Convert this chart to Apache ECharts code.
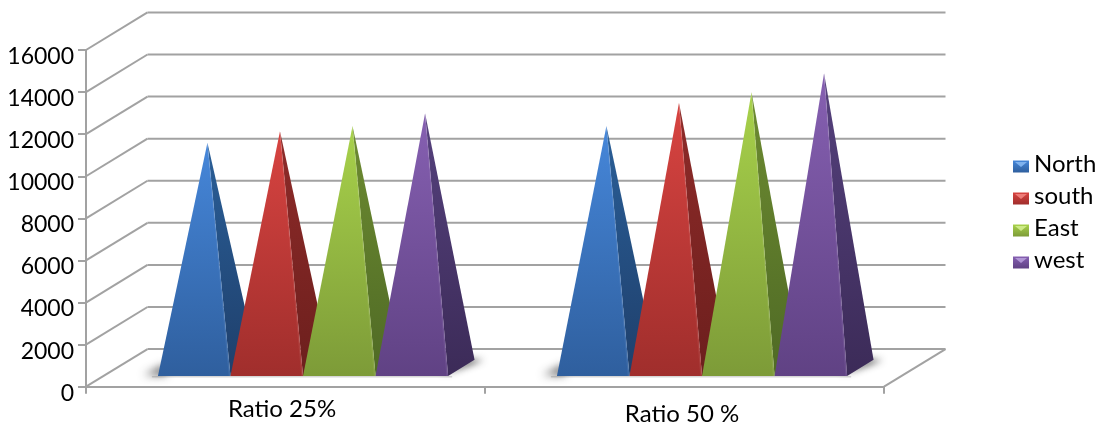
<!DOCTYPE html>
<html>
<head>
<meta charset="utf-8">
<style>html,body{margin:0;padding:0;background:#fff}#c{width:1102px;height:423px}</style>
<script src="https://cdn.jsdelivr.net/npm/echarts@6/dist/echarts.min.js"></script>
</head>
<body>
<div id="c"></div>
<script>
// Values per region
const categories = ['Ratio 25%', 'Ratio 50 %'];
const north = [10700, 11500];
const south = [11250, 12600];
const east = [11500, 13100];
const west = [12100, 14000];
const seriesNames = ['North', 'south', 'East', 'west'];
const seriesValues = [north, south, east, west];
const yTicks = [0, 2000, 4000, 6000, 8000, 10000, 12000, 14000, 16000];

// Face colours: front top, front bottom, side top, side bottom
const palette = [
  ['#4687da', '#2f5f9e', '#2a5f98', '#1f3f6b'],
  ['#d84441', '#a02e2c', '#8f2b29', '#6c1f1d'],
  ['#a8d24b', '#7d9b38', '#6d8b31', '#4f6a25'],
  ['#8660b2', '#604284', '#55417d', '#3c2b58']
];
// Pale notch on the legend swatches
const swatchGlow = ['#7fb2ee', '#ee7c78', '#cdea86', '#b196d6'];

// Oblique projection of the 3D box: full depth moves a point right and up
const DEPTH_X = 61.5, DEPTH_Y = 37.6;
const FRONT = 0.285, BACK = 0.715, MID = 0.5;
const GAP = 1.5;           // gap between clusters, in pyramid widths
const GRID = '#a2a2a2';
const FAR = 3000;          // shapes sit off-canvas so that only their blurred shadow shows

function vgrad(a, b) {
  return { type: 'linear', x: 0, y: 0, x2: 0, y2: 1, colorStops: [{ offset: 0, color: a }, { offset: 1, color: b }] };
}
function proj(p, d) { return [p[0] + d * DEPTH_X, p[1] - d * DEPTH_Y]; }
function pyramidWidth(api) { return api.size([1, 0])[0] / (seriesNames.length + GAP); }

// Back wall, gridlines and floor edges
function renderWall(params, api) {
  const cs = params.coordSys;
  const p = api.coord([0, api.value(0)]);
  const left = [cs.x, p[1]];
  const right = [cs.x + cs.width, p[1]];
  const backL = proj(left, 1), backR = proj(right, 1);
  const line = (a, b) => ({
    type: 'line',
    shape: { x1: a[0], y1: a[1], x2: b[0], y2: b[1] },
    style: { stroke: GRID, lineWidth: 2 }
  });
  const children = [line(left, backL), line(backL, backR)];
  if (api.value(0) === 0) children.push(line(right, backR));
  return { type: 'group', children };
}

function blurred(points, color, blur) {
  return {
    type: 'polygon',
    shape: { points: points.map(p => [p[0] - FAR, p[1]]) },
    style: { fill: '#000', shadowColor: color, shadowBlur: blur, shadowOffsetX: FAR, shadowOffsetY: 0 }
  };
}

// Soft shadow cast on the floor by each cluster
function renderShadow(params, api) {
  const cat = api.value(0);
  const w = pyramidWidth(api);
  const band = api.size([1, 0])[0];
  const base = api.coord([cat, 0]);
  const x0 = base[0] - band / 2 + (GAP / 2) * w;
  const fl = proj([x0, base[1]], FRONT);
  const fr = proj([x0 + seriesNames.length * w, base[1]], FRONT);
  const br = proj([x0 + seriesNames.length * w, base[1]], BACK);
  return {
    type: 'group',
    children: [
      blurred([[fl[0] - 14, fl[1] - 1], [fl[0] + 8, fl[1] - 1], [fl[0] + 8, fl[1] - 12]], 'rgba(70,70,70,0.85)', 8),
      blurred([[fr[0] - 6, fr[1] - 2], [br[0] - 6, br[1]], [br[0] + 9, br[1]], [fr[0] + 8, fr[1] - 6]], 'rgba(50,50,50,0.9)', 7),
      {
        type: 'rect',
        shape: { x: fl[0] - 6, y: fl[1], width: fr[0] - fl[0] + 10, height: 1.5 },
        style: { fill: 'rgba(120,120,120,0.3)' }
      }
    ]
  };
}

// One pyramid: front face and right-hand face meeting at the apex
function makePyramid(si) {
  return function (params, api) {
    const cat = api.value(0);
    const w = pyramidWidth(api);
    const band = api.size([1, 0])[0];
    const base = api.coord([cat, 0]);
    const top = api.coord([cat, api.value(1)]);
    const x0 = base[0] - band / 2 + (GAP / 2 + si) * w;
    const fl = proj([x0, base[1]], FRONT);
    const fr = proj([x0 + w, base[1]], FRONT);
    const br = proj([x0 + w, base[1]], BACK);
    const apex = proj([x0 + w / 2, top[1]], MID);
    const c = palette[si];
    return {
      type: 'group',
      children: [
        { type: 'polygon', shape: { points: [fr, br, apex] }, style: { fill: vgrad(c[2], c[3]) } },
        { type: 'polygon', shape: { points: [fl, fr, apex] }, style: { fill: vgrad(c[0], c[1]) } },
        {
          type: 'line',
          shape: { x1: fr[0] - 1, y1: fr[1], x2: apex[0], y2: apex[1] },
          style: { stroke: 'rgba(255,255,255,0.07)', lineWidth: 1.5 }
        }
      ]
    };
  };
}

const series = [
  {
    name: 'wall', type: 'custom', coordinateSystem: 'cartesian2d', silent: true, z: 1,
    renderItem: renderWall, encode: { y: 0 },
    data: yTicks.map(v => [v])
  },
  {
    name: 'floorShadow', type: 'custom', coordinateSystem: 'cartesian2d', silent: true, z: 2,
    renderItem: renderShadow, encode: { x: 0 },
    data: categories.map((c, i) => [i])
  }
];
seriesNames.forEach((name, si) => {
  series.push({
    name, type: 'custom', coordinateSystem: 'cartesian2d', z: 3 + si,
    renderItem: makePyramid(si),
    encode: { x: 0, y: 1 },
    itemStyle: { color: palette[si][0] },
    data: seriesValues[si].map((v, i) => [i, v])
  });
});

const LEGEND_LEFT = 1013, LEGEND_TOP = 161, LEGEND_STEP = 32;

const chart = echarts.init(document.getElementById('c'), null, { renderer: 'canvas' });
chart.setOption({
  animation: false,
  backgroundColor: '#fff',
  grid: { left: 86, top: 50, width: 798, height: 336.7, outerBoundsMode: 'none' },
  xAxis: {
    type: 'category',
    data: [
      { value: categories[0], textStyle: { padding: [3, 7, 0, 0] } },
      { value: categories[1], textStyle: { padding: [8, 5, 0, 0] } }
    ],
    axisLine: { lineStyle: { color: GRID, width: 2 } },
    axisTick: { show: true, length: 7, lineStyle: { color: GRID, width: 2 } },
    axisLabel: { color: '#000', fontFamily: 'Lato', fontSize: 24, margin: 8 }
  },
  yAxis: {
    type: 'value', min: 0, max: 16000, interval: 2000,
    axisLine: { show: true, lineStyle: { color: GRID, width: 2 } },
    axisTick: { show: true, length: 8, lineStyle: { color: GRID, width: 2 } },
    splitLine: { show: false },
    axisLabel: {
      color: '#000', fontFamily: 'Lato', fontSize: 23, margin: 12,
      verticalAlign: 'top', lineHeight: 13,
      formatter: v => String(v)
    }
  },
  legend: {
    orient: 'vertical', left: LEGEND_LEFT, top: 152, padding: 0,
    itemWidth: 16, itemHeight: 12, itemGap: 3,
    icon: 'rect',
    data: seriesNames.map((name, si) => ({
      name,
      itemStyle: { color: vgrad(palette[si][0], palette[si][1]) }
    })),
    formatter: name => '{t|' + name + '}',
    textStyle: {
      rich: { t: { color: '#000', fontFamily: 'Lato', fontSize: 24, lineHeight: 20, padding: [0, 0, 5, 0] } }
    }
  },
  graphic: swatchGlow.map((c, i) => ({
    type: 'polygon',
    silent: true,
    z: 20,
    shape: {
      points: [
        [LEGEND_LEFT + 2, LEGEND_TOP + i * LEGEND_STEP + 1],
        [LEGEND_LEFT + 14, LEGEND_TOP + i * LEGEND_STEP + 1],
        [LEGEND_LEFT + 8, LEGEND_TOP + i * LEGEND_STEP + 6]
      ]
    },
    style: { fill: c }
  })),
  series
});
</script>
</body>
</html>
